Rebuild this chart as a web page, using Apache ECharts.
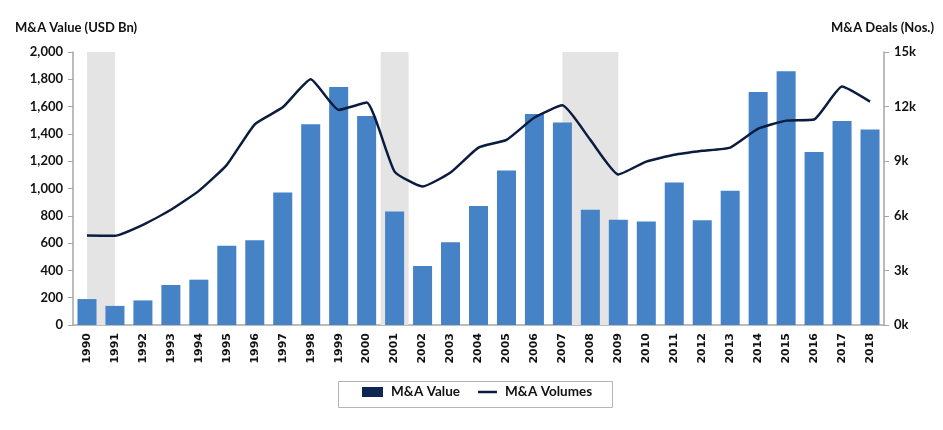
<!DOCTYPE html>
<html>
<head>
<meta charset="utf-8">
<script src="https://cdn.jsdelivr.net/npm/echarts@6/dist/echarts.min.js"></script>
<style>html,body{margin:0;padding:0;background:#fff;}#c{width:943px;height:430px;}</style>
</head>
<body>
<div id="c"></div>
<script>
const years = ['1990','1991','1992','1993','1994','1995','1996','1997','1998','1999','2000','2001','2002','2003','2004','2005','2006','2007','2008','2009','2010','2011','2012','2013','2014','2015','2016','2017','2018'];
const maValue = [190,140,180,293,332,580,620,970,1471,1744,1532,832,432,607,871,1132,1546,1483,844,771,759,1044,768,983,1707,1859,1268,1495,1432];
const maVolumes = [4920,4900,5500,6330,7370,8800,11030,11960,13500,11820,12220,8430,7610,8380,9750,10170,11400,12070,10170,8270,8980,9350,9570,9750,10790,11230,11290,13100,12270];
const recessions = [[1990,1991],[2000.5,2001.5],[2007,2009]];
const leftTicks = {min:0,max:2000,interval:200};
const rightTicks = {min:0,max:15000,interval:3000};

const font = 'Lato, "Open Sans", sans-serif';
const legendText = {fontFamily:font,fontWeight:'bold',fontSize:13.5,color:'#111',padding:[0,0,0,3]};
const chart = echarts.init(document.getElementById('c'));
chart.setOption({
  animation:false,
  textStyle:{fontFamily:font},
  grid:{left:73,right:59,top:52,bottom:105},
  graphic:[{type:'rect',left:336,top:379,silent:true,
    shape:{width:274,height:26},style:{fill:'none',stroke:'#b4b4b4',lineWidth:1}}],
  legend:[
    {data:[{name:'M&A Value',icon:'rect',itemStyle:{color:'#0e2654'}}],
     left:362, top:385, itemWidth:21, itemHeight:10, padding:0, textStyle:legendText},
    {data:[{name:'M&A Volumes',icon:'rect',itemStyle:{color:'#0b1c3e'}}],
     left:478, top:385, itemWidth:19, itemHeight:2.5, padding:0, textStyle:legendText}
  ],
  xAxis:[
    {type:'category',data:years,axisTick:{show:false},
     axisLine:{lineStyle:{color:'#a6a6a6',width:1.5}},
     axisLabel:{rotate:90,fontFamily:'"DejaVu Sans", sans-serif',fontWeight:'bold',fontSize:11,color:'#111',margin:8}},
    {type:'value',min:1989.5,max:2018.5,show:false}
  ],
  yAxis:[
    {type:'value',min:leftTicks.min,max:leftTicks.max,interval:leftTicks.interval,
     name:'M&A Value (USD Bn)',nameLocation:'end',nameGap:18,
     nameTextStyle:{fontFamily:font,fontWeight:'bold',fontSize:13,color:'#111',align:'left',padding:[0,0,0,-58]},
     axisLine:{show:true,lineStyle:{color:'#a6a6a6',width:1.5}},
     axisTick:{show:true,length:5,lineStyle:{color:'#a6a6a6'}},
     splitLine:{show:false},
     axisLabel:{fontFamily:font,fontWeight:'bold',fontSize:13,color:'#111',margin:10,
       formatter:v=>v.toLocaleString('en-US')}},
    {type:'value',min:rightTicks.min,max:rightTicks.max,interval:rightTicks.interval,
     name:'M&A Deals (Nos.)',nameLocation:'end',nameGap:18,
     nameTextStyle:{fontFamily:font,fontWeight:'bold',fontSize:13,color:'#111',align:'right',padding:[0,-50,0,0]},
     axisLine:{show:true,lineStyle:{color:'#a6a6a6',width:1.5}},
     axisTick:{show:true,length:5,lineStyle:{color:'#a6a6a6'}},
     splitLine:{show:false},
     axisLabel:{fontFamily:font,fontWeight:'bold',fontSize:13,color:'#111',margin:10,
       formatter:v=>(v/1000)+'k'}}
  ],
  series:[
    {name:'shade',type:'line',xAxisIndex:1,yAxisIndex:0,data:[[1990,0]],symbol:'none',
     lineStyle:{opacity:0},silent:true,z:0,
     markArea:{silent:true,itemStyle:{color:'#e4e4e4'},
       data:recessions.map(r=>[{xAxis:r[0]},{xAxis:r[1]}])}},
    {name:'M&A Value',type:'bar',data:maValue,barWidth:'68%',z:2,
     itemStyle:{color:'#4682c6'}},
    {name:'M&A Volumes',type:'line',yAxisIndex:1,data:maVolumes,symbol:'none',smooth:0.15,z:3,
     lineStyle:{color:'#0b1c3e',width:2.5},itemStyle:{color:'#0b1c3e'}}
  ]
});
</script>
</body>
</html>
